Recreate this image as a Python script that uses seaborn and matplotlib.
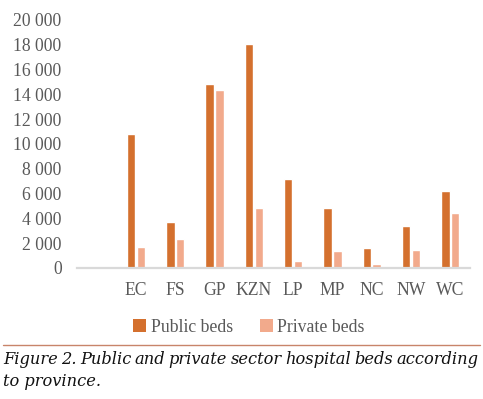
import matplotlib
matplotlib.use("Agg")
import matplotlib.pyplot as plt
from matplotlib.lines import Line2D
from matplotlib.patches import Patch
import seaborn as sns
import pandas as pd

# datos
provincias = ["EC", "FS", "GP", "KZN", "LP", "MP", "NC", "NW", "WC"]
publicas = [10800, 3700, 14800, 18100, 7200, 4800, 1650, 3400, 6230]
privadas = [1670, 2300, 14350, 4840, 560, 1370, 350, 1450, 4400]
series = ["Public beds", "Private beds"]
colores = ["#D4702E", "#F2AA8C"]
yticks = list(range(0, 20001, 2000))

df = pd.DataFrame({
    "prov": provincias * 2,
    "beds": publicas + privadas,
    "tipo": [series[0]] * len(provincias) + [series[1]] * len(provincias),
})

sns.set_style("white")
plt.rcParams["font.family"] = ["Liberation Serif", "DejaVu Serif"]
gris = "#595959"

fig = plt.figure(figsize=(4.83, 3.99), dpi=100)
ax = fig.add_axes([77/483, 131/399, 393/483, 248/399])
sns.barplot(data=df, x="prov", y="beds", hue="tipo", order=provincias,
            hue_order=series, palette=colores, width=0.5, gap=0.14,
            saturation=1, errorbar=None, legend=False, ax=ax)

ax.set_xlim(-1.5, len(provincias) - 0.5)
ax.set_ylim(0, 20000)
ax.set_yticks(yticks)
ax.set_yticklabels([f"{v:,}".replace(",", " ") for v in yticks])
ax.set_xlabel("")
ax.set_ylabel("")
for s in ["top", "right", "left"]:
    ax.spines[s].set_visible(False)
ax.spines["bottom"].set_color("#D9D9D9")
ax.spines["bottom"].set_linewidth(1.6)
ax.tick_params(axis="y", length=0, pad=11, labelsize=12.7, labelcolor=gris)
ax.tick_params(axis="x", length=0, pad=10, labelsize=12.7, labelcolor=gris)

handles = [Patch(facecolor=c, edgecolor="none") for c in colores]
fig.legend(handles, series, loc="center", bbox_to_anchor=(249/483, 1 - 327/399),
           ncol=2, frameon=False, handlelength=0.75, handleheight=0.75,
           handletextpad=0.25, columnspacing=1.5, prop={"size": 12.8},
           labelcolor=gris)

fig.add_artist(Line2D([3/483, 480/483], [1 - 345/399] * 2, color="#C8846A", lw=1.0))

# pie de figura justificado
linea1 = "Figure 2. Public and private sector hospital beds according".split()
fuente = dict(family="DejaVu Serif", style="italic", size=11.7, color="#111111")
fig.canvas.draw()
r = fig.canvas.get_renderer()
anchos = []
textos = []
for w in linea1:
    t = fig.text(0, 0, w, **fuente, va="center")
    anchos.append(t.get_window_extent(r).width)
    textos.append(t)
x0, x1 = 3, 478
hueco = (x1 - x0 - sum(anchos)) / (len(linea1) - 1)
x = x0
for t, a in zip(textos, anchos):
    t.set_position((x / 483, 1 - 360/399))
    x += a + hueco
fig.text(3/483, 1 - 382/399, "to province.", **fuente, va="center")

fig.savefig("out.png", dpi=100)
